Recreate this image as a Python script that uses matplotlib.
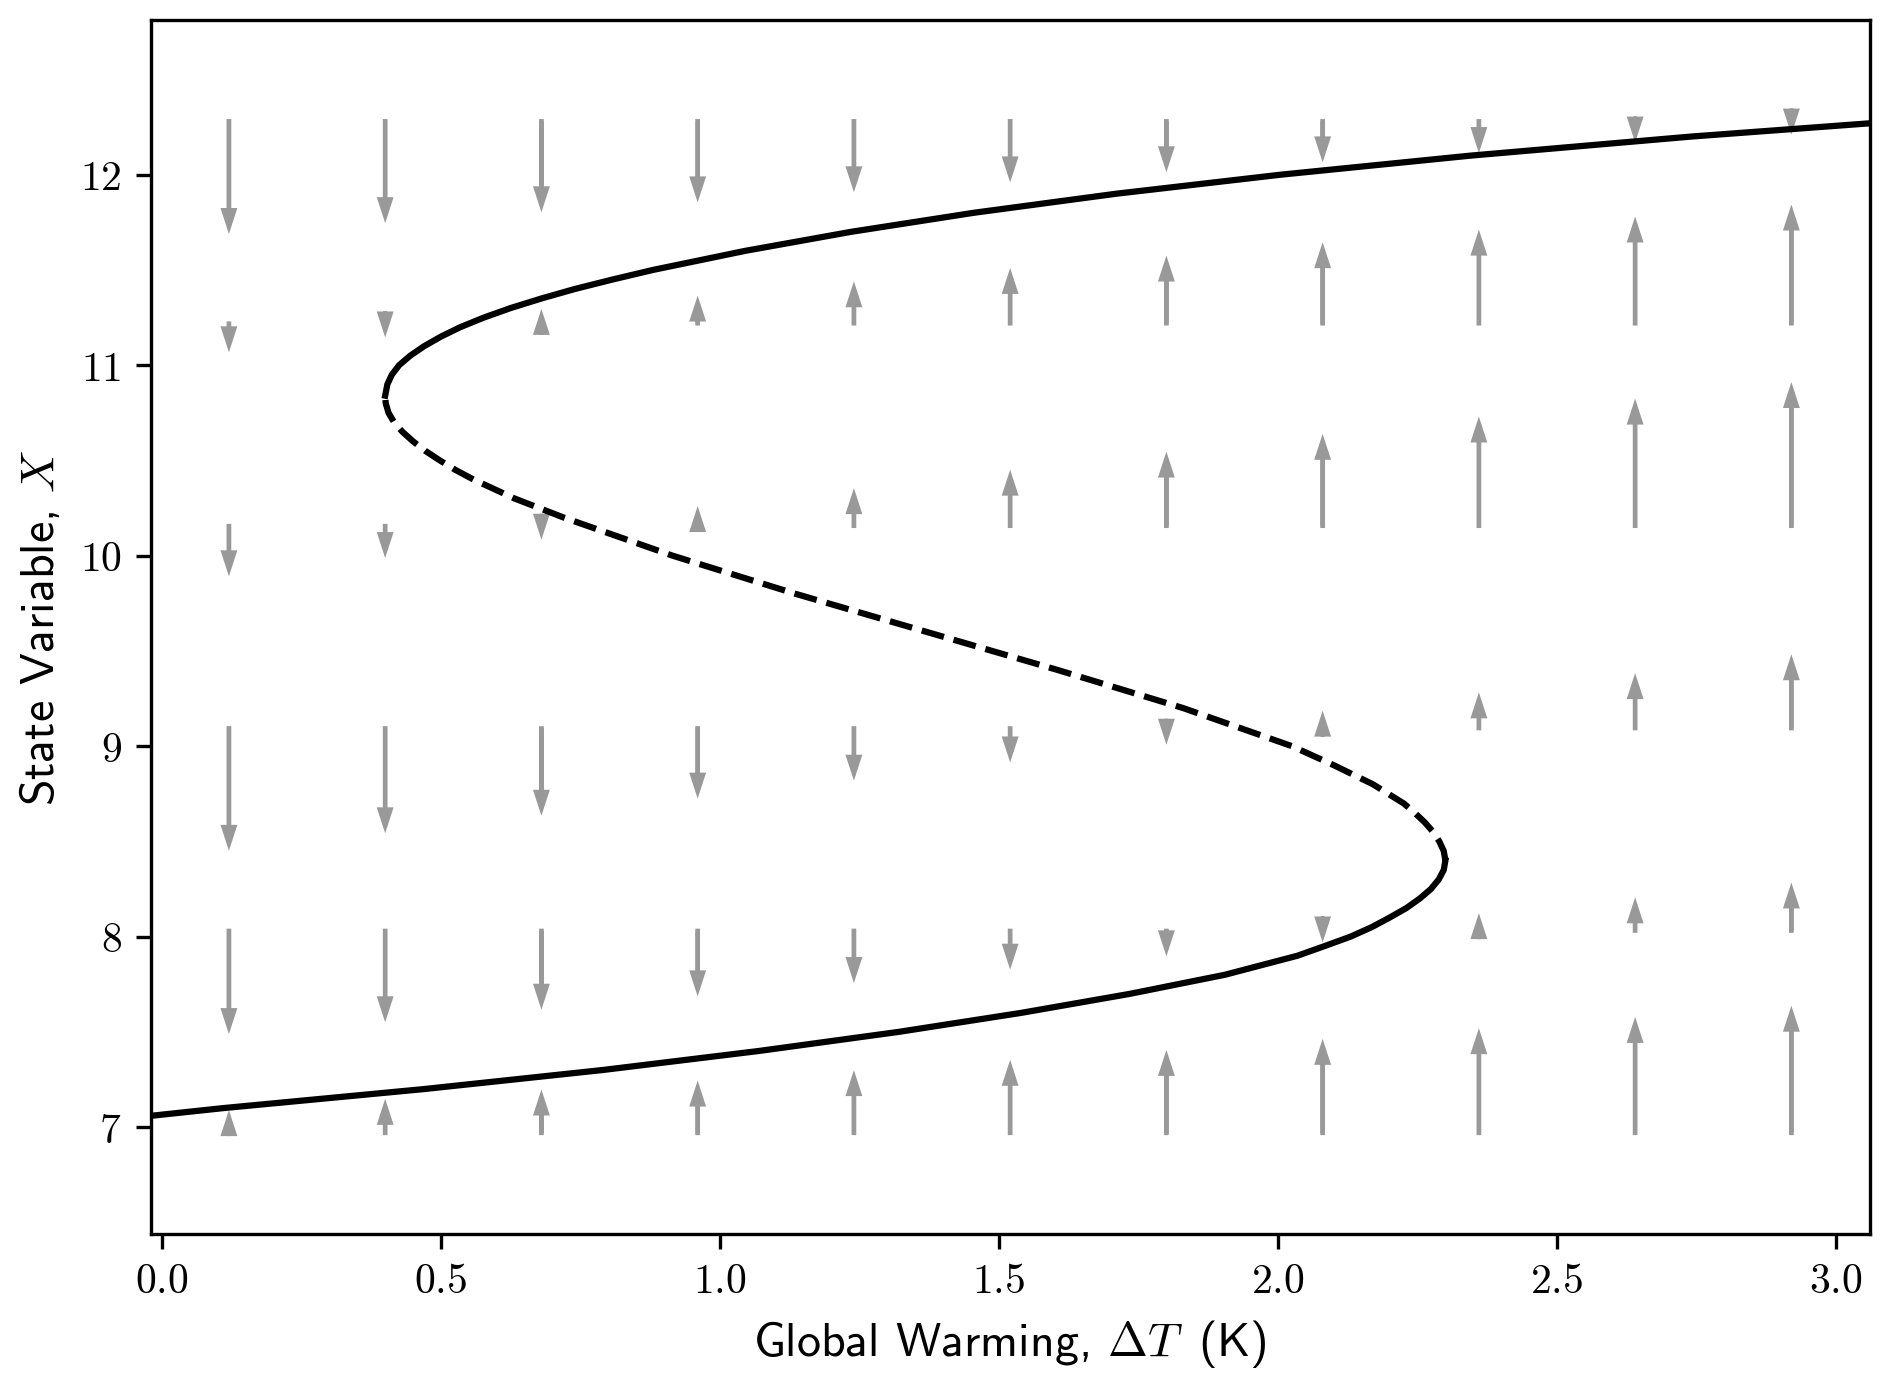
import matplotlib
matplotlib.use('Agg')
import matplotlib.pyplot as plt
from matplotlib.ticker import FuncFormatter, MultipleLocator

plt.rcParams['font.family'] = ['cmss10', 'DejaVu Sans']
plt.rcParams['mathtext.fontset'] = 'cm'
plt.rcParams['axes.unicode_minus'] = False
plt.rcParams['font.size'] = 10

# ---- equilibrium curve (state X vs warming dT) ----
lower_X = [7.05, 7.10, 7.20, 7.30, 7.40, 7.50, 7.60, 7.70, 7.80, 7.90, 7.95,
           8.00, 8.05, 8.10, 8.15, 8.20, 8.25, 8.30, 8.35, 8.40]
lower_dT = [-0.05, 0.11, 0.47, 0.79, 1.07, 1.32, 1.54, 1.735, 1.905, 2.035, 2.083,
            2.13, 2.168, 2.20, 2.23, 2.254, 2.274, 2.288, 2.297, 2.30]

mid_X = [8.40, 8.45, 8.50, 8.55, 8.60, 8.65, 8.70, 8.80, 8.90, 9.00, 9.20,
         9.40, 9.60, 9.80, 10.00, 10.20, 10.30, 10.40, 10.45, 10.50, 10.55,
         10.60, 10.65, 10.70, 10.75, 10.80, 10.84]
mid_dT = [2.30, 2.297, 2.289, 2.278, 2.263, 2.245, 2.225, 2.17, 2.10, 2.025, 1.83,
          1.605, 1.37, 1.135, 0.915, 0.72, 0.632, 0.558, 0.526, 0.498, 0.472,
          0.45, 0.431, 0.416, 0.406, 0.401, 0.40]

upper_X = [10.84, 10.90, 10.95, 11.00, 11.05, 11.10, 11.15, 11.20, 11.25, 11.30,
           11.35, 11.40, 11.45, 11.50, 11.60, 11.70, 11.80, 11.90, 12.00, 12.10,
           12.20, 12.30]
upper_dT = [0.40, 0.404, 0.412, 0.425, 0.445, 0.47, 0.50, 0.535, 0.577, 0.625,
            0.68, 0.74, 0.808, 0.88, 1.045, 1.235, 1.455, 1.71, 2.005, 2.345,
            2.74, 3.20]

# ---- vector field: grid and rate of change dX/dt at each grid point ----
dT_grid = [0.12, 0.40, 0.68, 0.96, 1.24, 1.52, 1.80, 2.08, 2.36, 2.64, 2.92]
X_grid = [6.969, 8.031, 9.094, 10.156, 11.219, 12.281]

rate_row1 = [0.085, 0.144, 0.193, 0.240, 0.295, 0.349, 0.401, 0.459, 0.515, 0.574, 0.633]
rate_row2 = [-0.507, -0.445, -0.379, -0.309, -0.239, -0.169, -0.099, -0.026, 0.057, 0.140, 0.218]
rate_row3 = [-0.608, -0.516, -0.424, -0.334, -0.240, -0.144, -0.051, 0.057, 0.153, 0.254, 0.353]
rate_row4 = [-0.229, -0.133, -0.037, 0.069, 0.163, 0.260, 0.355, 0.448, 0.539, 0.633, 0.720]
rate_row5 = [-0.116, -0.038, 0.041, 0.111, 0.186, 0.256, 0.321, 0.391, 0.457, 0.526, 0.589]
rate_row6 = [-0.557, -0.500, -0.443, -0.391, -0.338, -0.286, -0.233, -0.181, -0.132, -0.077, -0.035]
rate_rows = [rate_row1, rate_row2, rate_row3, rate_row4, rate_row5, rate_row6]

fig = plt.figure(figsize=(1892 / 300, 1385 / 300), dpi=300)
ax = fig.add_axes([150.8 / 1892, 1 - 1235.3 / 1385, 1718.7 / 1892, 1214.4 / 1385])

for Xv, rates in zip(X_grid, rate_rows):
    for dTv, r in zip(dT_grid, rates):
        ax.arrow(dTv, Xv, 0, r, width=0.001, head_width=0.02, head_length=0.09,
                 length_includes_head=True, color='0.6', lw=1.0)

ax.plot(lower_dT, lower_X, color='k', ls='-', lw=1.5)
ax.plot(mid_dT, mid_X, color='k', ls='--', lw=1.5)
ax.plot(upper_dT, upper_X, color='k', ls='-', lw=1.5)

ax.set_xlim(-0.02, 3.06)
ax.set_ylim(6.4375, 12.8125)
ax.xaxis.set_major_locator(MultipleLocator(0.5))
ax.yaxis.set_major_locator(MultipleLocator(1))
ax.xaxis.set_major_formatter(FuncFormatter(lambda v, p: f'${v:.1f}$'))
ax.yaxis.set_major_formatter(FuncFormatter(lambda v, p: f'${v:.0f}$'))

ax.set_xlabel(r'Global Warming, $\Delta T\,$ (K)', fontsize=11.5)
ax.set_ylabel(r'State Variable, $X$', fontsize=11.5)

fig.savefig('out.png', dpi=300)
